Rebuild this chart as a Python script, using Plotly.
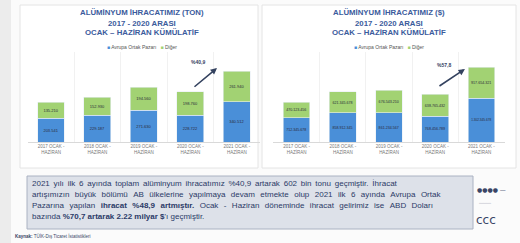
import plotly.graph_objects as go

# ---------------- data ----------------
categories = ["2017 OCAK -<br>HAZİRAN", "2018 OCAK -<br>HAZİRAN", "2019 OCAK -<br>HAZİRAN",
              "2020 OCAK -<br>HAZİRAN", "2021 OCAK -<br>HAZİRAN"]
ton_aop = [203541, 229187, 271630, 228722, 340512]        # Avrupa Ortak Pazarı (ton)
ton_diger = [135210, 152930, 194560, 198760, 261940]      # Diğer (ton)
usd_aop = [712345678, 858912345, 861234567, 768456789, 1302345678]   # Avrupa Ortak Pazarı ($)
usd_diger = [470123456, 621345678, 676543210, 638765432, 917654321]  # Diğer ($)
series_names = ["Avrupa Ortak Pazarı", "Diğer"]
left_title = ["ALÜMİNYUM İHRACATIMIZ (TON)", "2017 - 2020 ARASI", "OCAK – HAZİRAN KÜMÜLATİF"]
right_title = ["ALÜMİNYUM İHRACATIMIZ ($)", "2017 - 2020 ARASI", "OCAK – HAZİRAN KÜMÜLATİF"]
left_change = "%40,9"
right_change = "%57,8"

BLUE = "#4a8fd8"
GREEN = "#a2d273"
NAVY = "#2b3a67"
TITLE = "#3b5b9c"
W, H = 520, 243

def px(x):
    return x / W

def py(y):
    return 1 - y / H

fig = go.Figure()

for vals, name, col, xa, ya in [
    (ton_aop, series_names[0], BLUE, "x", "y"),
    (ton_diger, series_names[1], GREEN, "x", "y"),
    (usd_aop, series_names[0], BLUE, "x2", "y2"),
    (usd_diger, series_names[1], GREEN, "x2", "y2"),
]:
    fig.add_trace(go.Bar(
        x=categories, y=vals, name=name, marker=dict(color=col, line=dict(color="#e8eef5", width=0.6)),
        xaxis=xa, yaxis=ya, width=0.58, showlegend=False,
        texttemplate="%{y:,.0f}", textposition="inside", insidetextanchor="middle",
        textangle=0, textfont=dict(size=4, color="#2a2a3a", family="Liberation Sans"),
        cliponaxis=False,
    ))

shapes = [
    dict(type="rect", xref="paper", yref="paper", x0=0, x1=px(11), y0=0, y1=1,
         fillcolor="#ececec", line=dict(width=0), layer="below"),
    dict(type="rect", xref="paper", yref="paper", x0=px(20), x1=px(258), y0=py(168), y1=py(5),
         fillcolor="#ffffff", line=dict(color="#e4e4e4", width=1), layer="below"),
    dict(type="rect", xref="paper", yref="paper", x0=px(262), x1=px(516), y0=py(168), y1=py(5),
         fillcolor="#ffffff", line=dict(color="#e4e4e4", width=1), layer="below"),
    dict(type="rect", xref="paper", yref="paper", x0=px(27), x1=px(473), y0=py(229), y1=py(176),
         fillcolor="#dde1e9", line=dict(color="#aab2c2", width=1), layer="below"),
]

ann = []
for cx, lines in [(142, left_title), (389, right_title)]:
    for i, t in enumerate(lines):
        ann.append(dict(x=px(cx), y=py(13 + 10 * i), xref="paper", yref="paper", text=f"<b>{t}</b>",
                        showarrow=False, font=dict(size=7.8, color=TITLE, family="Liberation Sans"),
                        xanchor="center", yanchor="middle"))
    ann.append(dict(x=px(cx), y=py(47), xref="paper", yref="paper",
                    text=f"<span style='color:{BLUE}'>■</span> {series_names[0]}   "
                         f"<span style='color:{GREEN}'>■</span> {series_names[1]}",
                    showarrow=False, font=dict(size=5, color="#555", family="Liberation Sans"),
                    xanchor="center", yanchor="middle"))

# growth arrows
ann += [
    dict(x=3.574, y=629000, ax=3.057, ay=459000, xref="x", yref="y", axref="x", ayref="y",
         text="", showarrow=True, arrowhead=2, arrowsize=0.8, arrowwidth=1.6, arrowcolor="#34425f"),
    dict(x=3.165, y=680000, xref="x", yref="y", text=f"<b>{left_change}</b>", showarrow=False,
         font=dict(size=5, color="#34425f", family="Liberation Sans")),
    dict(x=3.643, y=2.161e9, ax=3.059, ay=1.628e9, xref="x2", yref="y2", axref="x2", ayref="y2",
         text="", showarrow=True, arrowhead=2, arrowsize=0.8, arrowwidth=1.6, arrowcolor="#34425f"),
    dict(x=3.189, y=2.279e9, xref="x2", yref="y2", text=f"<b>{right_change}</b>", showarrow=False,
         font=dict(size=5, color="#34425f", family="Liberation Sans")),
]

# text box lines (extra gap count per line emulates justified text)
text_lines = [
    ("2021 yılı ilk 6 ayında toplam alüminyum ihracatımız %40,9 artarak 602 bin tonu geçmiştir. İhracat", 2),
    ("artışımızın büyük bölümü AB ülkelerine yapılmaya devam etmekte olup 2021 ilk 6 ayında Avrupa Ortak", 3),
    ("Pazarına yapılan <b>ihracat %48,9 artmıştır.</b> Ocak - Haziran döneminde ihracat gelirimiz ise ABD Doları", 3),
    ("bazında <b>%70,7 artarak 2.22 milyar $</b>'ı geçmiştir.", 1),
]
for i, (t, gap) in enumerate(text_lines):
    sep = " " + "\u2009" * (gap - 1) if gap > 1 else " "
    ann.append(dict(x=px(30), y=py(183 + 11 * i), xref="paper", yref="paper",
                    text=sep.join(t.split(" ")), showarrow=False,
                    xanchor="left", yanchor="middle",
                    font=dict(size=8, color=NAVY, family="Liberation Sans")))

# logos & footer
ann += [
    dict(x=px(475), y=py(189), xref="paper", yref="paper", text="●●●● —", showarrow=False,
         xanchor="left", yanchor="middle", font=dict(size=6, color="#3a4566", family="DejaVu Sans")),
    dict(x=px(476), y=py(203), xref="paper", yref="paper", text="━━━━━━━━", showarrow=False,
         xanchor="left", yanchor="middle", font=dict(size=2.5, color="#9aa0b0", family="DejaVu Sans")),
    dict(x=px(474), y=py(220), xref="paper", yref="paper", text="ccc", showarrow=False,
         xanchor="left", yanchor="middle", font=dict(size=12, color="#3a4566", family="DejaVu Sans")),
    dict(x=px(13), y=py(236), xref="paper", yref="paper",
         text="<b>Kaynak:</b> TÜİK-Dış Ticaret İstatistikleri", showarrow=False,
         xanchor="left", yanchor="middle", font=dict(size=4.5, color="#3a4566", family="Liberation Sans")),
]

axis_common = dict(type="category", tickson="boundaries", showgrid=True, gridcolor="#f1f1f1",
                   showline=True, linecolor="#d9d9d9", linewidth=0.8, ticks="",
                   tickfont=dict(size=4.5, color="#777", family="Liberation Sans"), fixedrange=True)

fig.update_layout(
    width=W, height=H, margin=dict(l=0, r=0, t=0, b=0),
    paper_bgcolor="#fbfbfb", plot_bgcolor="rgba(0,0,0,0)",
    barmode="stack", bargap=0.42, separators=",.",
    xaxis=dict(domain=[px(27.8), px(260)], anchor="y", **axis_common),
    xaxis2=dict(domain=[px(273.4), px(504.6)], anchor="y2", **axis_common),
    yaxis=dict(domain=[py(142), py(52)], range=[0, 765000], visible=False, fixedrange=True),
    yaxis2=dict(domain=[py(142), py(52)], range=[0, 2.664e9], visible=False, fixedrange=True),
    shapes=shapes, annotations=ann, showlegend=False,
)

fig.write_html("out.html", config={"displayModeBar": False},
               post_script="document.body.style.margin='0';document.body.style.overflow='hidden';")
